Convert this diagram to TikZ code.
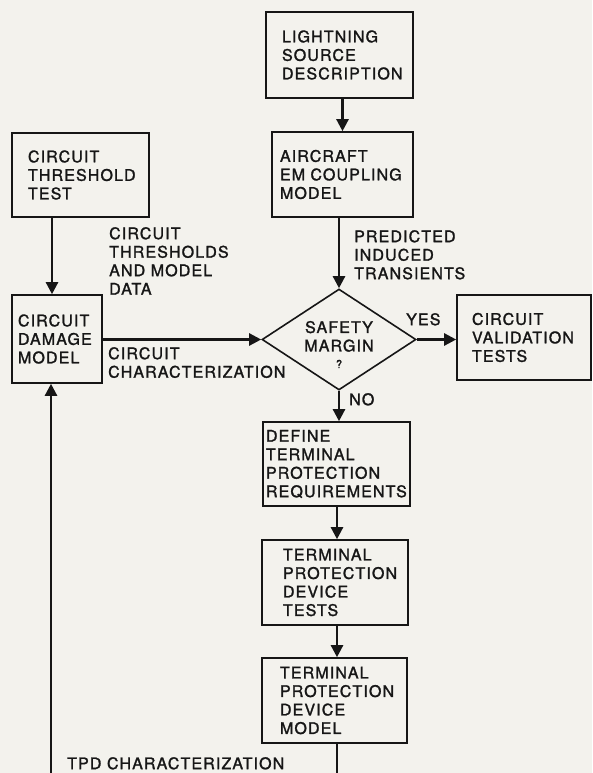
\documentclass[tikz,border=0pt]{standalone}
\usepackage{fontspec}
\setmainfont{TeX Gyre Heros}[LetterSpace=7,FakeBold=1.5]
\usetikzlibrary{shapes.geometric,arrows.meta,calc}
\definecolor{ink}{RGB}{22,22,22}
\definecolor{paper}{RGB}{243,242,237}
\newcommand{\fs}{\fontsize{16}{18.5}\selectfont}
\begin{document}
\begin{tikzpicture}[x=1pt,y=-1pt,
  box/.style={draw=ink, line width=1.6pt, rectangle, align=left, inner ysep=0pt, font=\fs, text=ink},
  lbl/.style={inner sep=0pt, anchor=north west, align=left, font=\fs, text=ink},
  arr/.style={draw=ink, line width=2.4pt, -{Triangle[width=12pt,length=12pt]}},
  conn/.style={draw=ink, line width=2.4pt}]
\useasboundingbox (0,0) rectangle (592,773);
\fill[paper] (0,0) rectangle (592,773);
% boxes
\node[box, minimum width=147pt, minimum height=86pt, text width=115pt, inner xsep=16pt] (light) at (339.5,55) {LIGHTNING\\SOURCE\\DESCRIPTION};
\node[box, minimum width=141pt, minimum height=85pt, text width=125pt, inner xsep=8pt] (air) at (342.5,174.5) {AIRCRAFT\\EM~COUPLING\\MODEL};
\node[box, minimum width=137pt, minimum height=84pt, text width=105pt, inner xsep=16pt] (thr) at (80.5,175) {CIRCUIT\\THRESHOLD\\TEST};
\node[box, minimum width=90pt, minimum height=88pt, text width=78pt, inner xsep=6pt] (dmg) at (57,339) {CIRCUIT\\DAMAGE\\MODEL};
\node[box, minimum width=134pt, minimum height=85pt, text width=104pt, inner xsep=15pt] (val) at (524,337.5) {CIRCUIT\\VALIDATION\\TESTS};
\node[box, minimum width=147pt, minimum height=84pt, text width=141pt, inner xsep=3pt] (def) at (336.5,464) {DEFINE\\TERMINAL\\PROTECTION\\REQUIREMENTS};
\node[box, minimum width=146pt, minimum height=85pt, text width=104pt, inner xsep=21pt] (tst) at (335,582.5) {TERMINAL\\PROTECTION\\DEVICE\\TESTS};
\node[box, minimum width=145pt, minimum height=85pt, text width=109pt, inner xsep=18pt] (mdl) at (334.5,700.5) {TERMINAL\\PROTECTION\\DEVICE\\MODEL};
% decision
\node[diamond, draw=ink, line width=1.6pt, inner sep=0pt, minimum width=154pt, minimum height=101pt] (dm) at (339,339.5) {};
\node[inner sep=0pt, align=center, font=\fs, text=ink] (dmt) at ([yshift=-5pt]dm.center) {SAFETY\\MARGIN\\[-2pt]{\fontsize{11}{11}\selectfont ?}};
% labels
\node[lbl] (l1) at (109,227) {CIRCUIT\\THRESHOLDS\\AND~MODEL\\DATA};
\node[lbl] (l2) at (354,230) {PREDICTED\\INDUCED\\TRANSIENTS};
\node[lbl] (l3) at (108,347) {CIRCUIT\\CHARACTERIZATION};
\node[lbl] (l4) at (406,313) {YES};
\node[lbl] (l5) at (349,393) {NO};
\node[lbl] (l6) at (67,757) {TPD~CHARACTERIZATION};
% free ends at the bottom edge
\coordinate (mb) at (337,773);
\coordinate (lb) at (51,773);
% connectors
\draw[arr] (air.north |- light.south) -- (air.north);
\draw[arr] (dm.north |- air.south) -- (dm.north);
\draw[arr] ([xshift=-5pt]dmg.north |- thr.south) -- ([xshift=-5pt]dmg.north);
\draw[arr] (dmg.east |- dm.west) -- (dm.west);
\draw[arr] (dm.east) -- (dm.east -| val.west);
\draw[arr] (dm.south) -- (dm.south |- def.north);
\draw[arr] (def.south -| mb) -- (tst.north -| mb);
\draw[arr] (tst.south -| mb) -- (mdl.north -| mb);
\draw[conn] (mdl.south -| mb) -- (mb);
\draw[arr] (lb) -- (lb |- dmg.south);
\end{tikzpicture}
\end{document}
